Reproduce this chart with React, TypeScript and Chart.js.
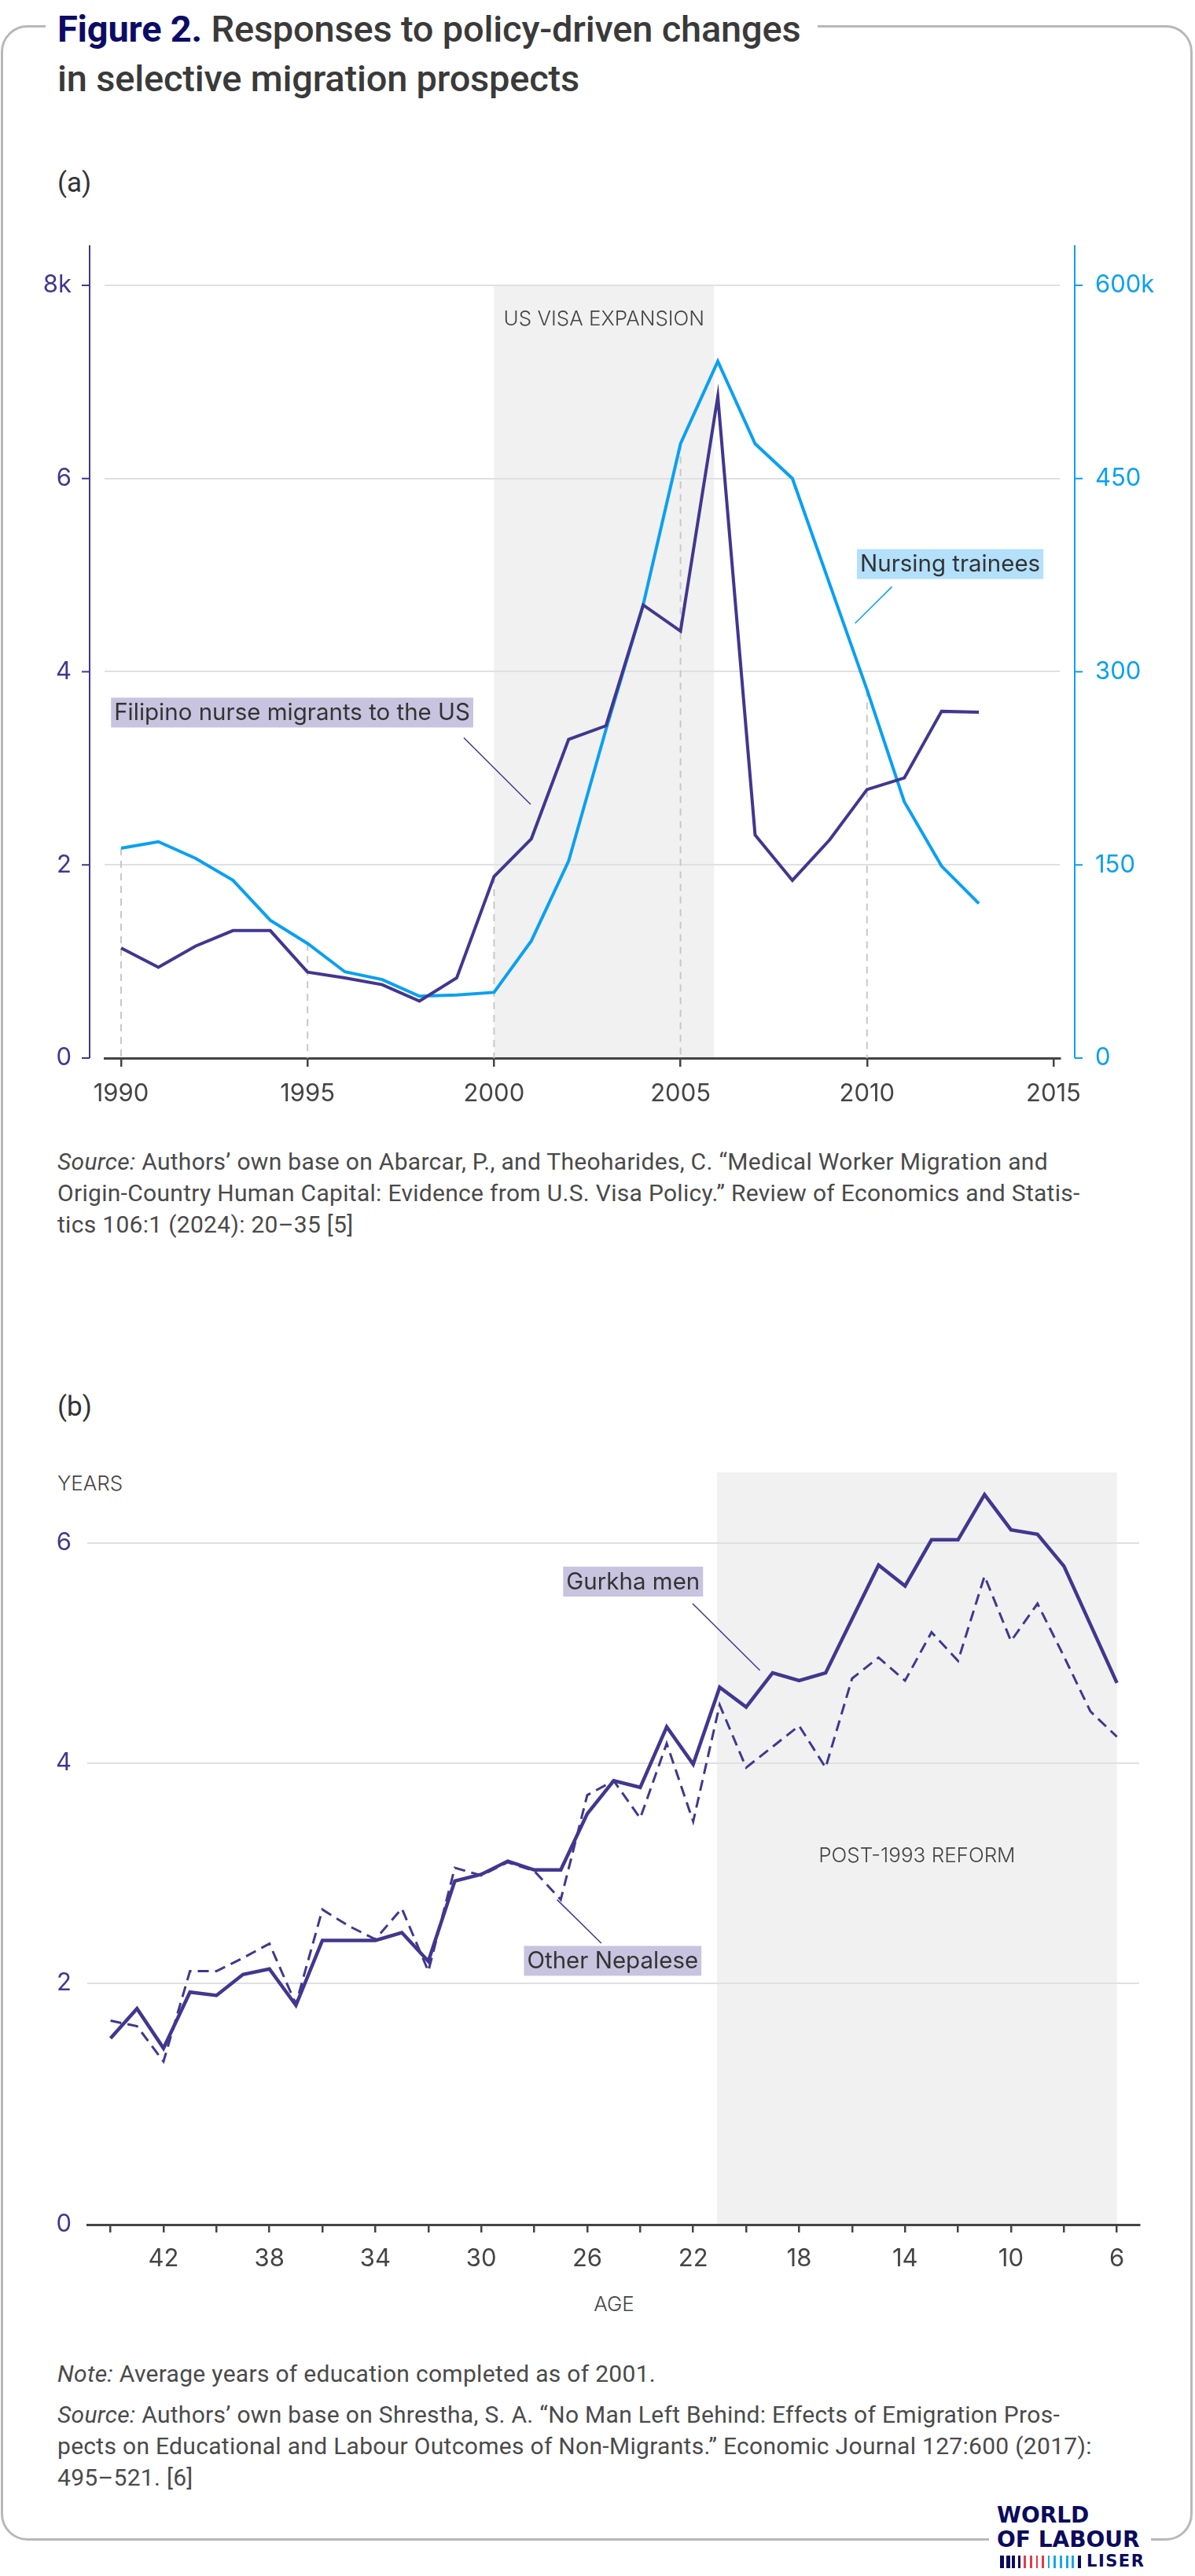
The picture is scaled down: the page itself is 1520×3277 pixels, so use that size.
import React, { useEffect, useRef } from "react";
import { Chart, registerables } from "chart.js";

Chart.register(...registerables);
Chart.defaults.font.family = "Inter, 'Noto Sans', sans-serif";

// ---------------- Data: panel (a) ----------------
const YEARS = [1990, 1991, 1992, 1993, 1994, 1995, 1996, 1997, 1998, 1999, 2000, 2001, 2002, 2003, 2004, 2005, 2006, 2007, 2008, 2009, 2010, 2011, 2012, 2013];
// Filipino nurse migrants to the US (thousands, left axis)
const FILIPINO_NURSES_K = [1.14, 0.94, 1.16, 1.32, 1.32, 0.89, 0.83, 0.76, 0.59, 0.83, 1.88, 2.27, 3.3, 3.44, 4.69, 4.42, 6.85, 2.31, 1.84, 2.26, 2.78, 2.9, 3.59, 3.58];
// Nursing trainees (thousands, right axis)
const NURSING_TRAINEES_K = [163, 168, 155, 138, 107, 89, 67, 61, 48, 49, 51, 91, 153, 255, 352, 477, 541, 477, 450, 368, 286, 199, 149, 120];
const YEAR_TICKS = [1990, 1995, 2000, 2005, 2010, 2015];
const LEFT_TICKS_K = [0, 2, 4, 6, 8];
const RIGHT_TICKS_K = [0, 150, 300, 450, 600];
const DASHED_YEARS = [1990, 1995, 2000, 2005, 2010];
const VISA_BAND = [2000, 2005.9];

// ---------------- Data: panel (b) ----------------
const AGES = [44, 43, 42, 41, 40, 39, 38, 37, 36, 35, 34, 33, 32, 31, 30, 29, 28, 27, 26, 25, 24, 23, 22, 21, 20, 19, 18, 17, 16, 15, 14, 13, 12, 11, 10, 9, 8, 7, 6];
const GURKHA_MEN = [1.5, 1.77, 1.41, 1.92, 1.89, 2.08, 2.13, 1.8, 2.39, 2.39, 2.39, 2.46, 2.2, 2.93, 2.99, 3.11, 3.03, 3.03, 3.54, 3.84, 3.78, 4.33, 3.99, 4.69, 4.51, 4.82, 4.75, 4.82, 5.31, 5.8, 5.61, 6.03, 6.03, 6.44, 6.12, 6.08, 5.79, 5.26, 4.73];
const OTHER_NEPALESE = [1.66, 1.61, 1.29, 2.11, 2.11, 2.23, 2.36, 1.81, 2.67, 2.52, 2.4, 2.68, 2.11, 3.05, 2.98, 3.1, 3.02, 2.76, 3.71, 3.84, 3.5, 4.18, 3.47, 4.53, 3.96, 4.15, 4.34, 3.96, 4.77, 4.96, 4.75, 5.19, 4.93, 5.7, 5.11, 5.45, 4.97, 4.47, 4.24];
const AGE_TICKS = [44, 42, 40, 38, 36, 34, 32, 30, 28, 26, 24, 22, 20, 18, 16, 14, 12, 10, 8, 6];
const AGE_LABELS = [42, 38, 34, 30, 26, 22, 18, 14, 10, 6];
const EDU_TICKS = [2, 4, 6];
const REFORM_BAND = [21.1, 6];

// ---------------- Styles ----------------
const PURPLE = "#41378f";
const BLUE = "#0aa0f2";
const GRID = "#e0e0e0";
const AXIS = "#444444";
const SHADE = "#f1f1f1";
const LAVENDER = "#c8c4df";
const LIGHTBLUE = "#b3e0fb";
const TEXT = "#333333";

type Label = { text: string; x: number; y: number; bg: string };
type Leader = { x1: number; y1: number; x2: number; y2: number; color: string };

function drawLabel(chart: any, xs: any, ys: any, l: Label) {
  const ctx = chart.ctx;
  ctx.save();
  ctx.font = "400 29.5px Inter";
  const w = ctx.measureText(l.text).width;
  const px = xs.getPixelForValue(l.x);
  const py = ys.getPixelForValue(l.y);
  ctx.fillStyle = l.bg;
  ctx.fillRect(px, py - 19, w + 8, 38);
  ctx.fillStyle = TEXT;
  ctx.textBaseline = "middle";
  ctx.textAlign = "left";
  ctx.fillText(l.text, px + 4, py + 1);
  ctx.restore();
}

function drawLeader(chart: any, xs: any, ys: any, l: Leader) {
  const ctx = chart.ctx;
  ctx.save();
  ctx.strokeStyle = l.color;
  ctx.lineWidth = 1.5;
  ctx.beginPath();
  ctx.moveTo(xs.getPixelForValue(l.x1), ys.getPixelForValue(l.y1));
  ctx.lineTo(xs.getPixelForValue(l.x2), ys.getPixelForValue(l.y2));
  ctx.stroke();
  ctx.restore();
}

const LABELS_A: Label[] = [
  { text: "Filipino nurse migrants to the US", x: 1989.73, y: 3.577, bg: LAVENDER },
  { text: "Nursing trainees", x: 2009.73, y: 5.114, bg: LIGHTBLUE },
];
const LEADERS_A: Leader[] = [
  { x1: 1999.19, y1: 3.317, x2: 2000.98, y2: 2.626, color: PURPLE },
  { x1: 2010.67, y1: 4.88, x2: 2009.68, y2: 4.5, color: BLUE },
];

const LABELS_B: Label[] = [
  { text: "Gurkha men", x: 26.91, y: 5.65, bg: LAVENDER },
  { text: "Other Nepalese", x: 28.39, y: 2.204, bg: LAVENDER },
];
const LEADERS_B: Leader[] = [
  { x1: 22.02, y1: 5.45, x2: 19.48, y2: 4.843, color: PURPLE },
  { x1: 27.14, y1: 2.76, x2: 25.47, y2: 2.364, color: PURPLE },
];

const noPadY = (w: number) => (s: any) => {
  s.width = w;
  s.paddingTop = 0;
  s.paddingBottom = 0;
};
const noPadX = (h: number) => (s: any) => {
  s.height = h;
  s.paddingLeft = 0;
  s.paddingRight = 0;
};

const pluginA = {
  id: "annotA",
  beforeDraw(chart: any) {
    const { ctx, chartArea: ca, scales } = chart;
    const x0 = scales.x.getPixelForValue(VISA_BAND[0]);
    const x1 = scales.x.getPixelForValue(VISA_BAND[1]);
    const top = scales.y.getPixelForValue(8);
    ctx.save();
    ctx.fillStyle = SHADE;
    ctx.fillRect(x0, top, x1 - x0, ca.bottom - top);
    ctx.restore();
  },
  beforeDatasetsDraw(chart: any) {
    const { ctx, chartArea: ca, scales } = chart;
    ctx.save();
    ctx.strokeStyle = "#c8c8c8";
    ctx.lineWidth = 2;
    ctx.setLineDash([9, 7]);
    DASHED_YEARS.forEach((yr) => {
      const i = YEARS.indexOf(yr);
      const px = scales.x.getPixelForValue(yr);
      const top = Math.min(scales.y.getPixelForValue(FILIPINO_NURSES_K[i]), scales.y2.getPixelForValue(NURSING_TRAINEES_K[i]));
      ctx.beginPath();
      ctx.moveTo(px, top);
      ctx.lineTo(px, ca.bottom);
      ctx.stroke();
    });
    ctx.setLineDash([]);
    ctx.font = "300 26px Inter";
    ctx.fillStyle = "#444";
    ctx.textAlign = "center";
    ctx.textBaseline = "middle";
    const cx = (scales.x.getPixelForValue(VISA_BAND[0]) + scales.x.getPixelForValue(VISA_BAND[1])) / 2;
    ctx.fillText("US VISA EXPANSION", cx, scales.y.getPixelForValue(7.65));
    ctx.restore();
  },
  afterDatasetsDraw(chart: any) {
    const { scales } = chart;
    LEADERS_A.forEach((l) => drawLeader(chart, scales.x, scales.y, l));
    LABELS_A.forEach((l) => drawLabel(chart, scales.x, scales.y, l));
  },
  afterDraw(chart: any) {
    const { ctx, chartArea: ca, scales } = chart;
    const gap = 19;
    ctx.save();
    ctx.lineWidth = 2;
    const lx = ca.left - gap;
    ctx.strokeStyle = PURPLE;
    ctx.beginPath();
    ctx.moveTo(lx, ca.top);
    ctx.lineTo(lx, ca.bottom);
    LEFT_TICKS_K.forEach((v) => {
      const py = scales.y.getPixelForValue(v);
      ctx.moveTo(lx - 10, py);
      ctx.lineTo(lx, py);
    });
    ctx.stroke();
    const rx = ca.right + gap;
    ctx.strokeStyle = BLUE;
    ctx.beginPath();
    ctx.moveTo(rx, ca.top);
    ctx.lineTo(rx, ca.bottom);
    RIGHT_TICKS_K.forEach((v) => {
      const py = scales.y2.getPixelForValue(v);
      ctx.moveTo(rx, py);
      ctx.lineTo(rx + 10, py);
    });
    ctx.stroke();
    ctx.restore();
  },
};

const pluginB = {
  id: "annotB",
  beforeDraw(chart: any) {
    const { ctx, chartArea: ca, scales } = chart;
    const x0 = scales.x.getPixelForValue(REFORM_BAND[0]);
    const x1 = scales.x.getPixelForValue(REFORM_BAND[1]);
    ctx.save();
    ctx.fillStyle = SHADE;
    ctx.fillRect(x0, ca.top, x1 - x0, ca.bottom - ca.top);
    ctx.restore();
  },
  beforeDatasetsDraw(chart: any) {
    const { ctx, scales } = chart;
    ctx.save();
    ctx.font = "300 26px Inter";
    ctx.fillStyle = "#444";
    ctx.textAlign = "center";
    ctx.textBaseline = "middle";
    const cx = (scales.x.getPixelForValue(REFORM_BAND[0]) + scales.x.getPixelForValue(REFORM_BAND[1])) / 2;
    ctx.fillText("POST-1993 REFORM", cx, scales.y.getPixelForValue(3.153));
    ctx.restore();
  },
  afterDatasetsDraw(chart: any) {
    const { scales } = chart;
    LEADERS_B.forEach((l) => drawLeader(chart, scales.x, scales.y, l));
    LABELS_B.forEach((l) => drawLabel(chart, scales.x, scales.y, l));
  },
};

function ChartA() {
  const ref = useRef<HTMLCanvasElement>(null);
  useEffect(() => {
    const chart = new Chart(ref.current as HTMLCanvasElement, {
      type: "line",
      data: {
        datasets: [
          {
            label: "Filipino nurse migrants to the US",
            data: YEARS.map((yr, i) => ({ x: yr, y: FILIPINO_NURSES_K[i] })),
            borderColor: PURPLE,
            borderWidth: 4,
            pointRadius: 0,
            tension: 0,
            yAxisID: "y",
          },
          {
            label: "Nursing trainees",
            data: YEARS.map((yr, i) => ({ x: yr, y: NURSING_TRAINEES_K[i] })),
            borderColor: BLUE,
            borderWidth: 4,
            pointRadius: 0,
            tension: 0,
            yAxisID: "y2",
          },
        ],
      },
      options: {
        animation: false,
        responsive: false,
        devicePixelRatio: 1,
        layout: { padding: { top: 22, left: 33, right: 52, bottom: 4 } },
        plugins: { legend: { display: false }, tooltip: { enabled: false } },
        scales: {
          x: {
            type: "linear",
            min: 1989.557,
            max: 2015.169,
            afterBuildTicks: (s: any) => {
              s.ticks = YEAR_TICKS.map((v) => ({ value: v }));
            },
            afterFit: noPadX(60),
            grid: { drawOnChartArea: false, drawTicks: true, tickLength: 11, tickColor: AXIS, lineWidth: 2.5 },
            border: { display: true, color: AXIS, width: 3 },
            ticks: { color: AXIS, font: { size: 31 }, padding: 16, maxRotation: 0, autoSkip: false, callback: (v: any) => String(v) },
          },
          y: {
            position: "left",
            min: 0,
            max: 8.415,
            afterBuildTicks: (s: any) => {
              s.ticks = LEFT_TICKS_K.map((v) => ({ value: v }));
            },
            afterFit: noPadY(100),
            grid: { color: GRID, lineWidth: 2, drawTicks: false },
            border: { display: false },
            ticks: { color: PURPLE, font: { size: 31 }, padding: 42, callback: (v: any) => (v === 8 ? "8k" : String(v)) },
          },
          y2: {
            position: "right",
            min: 0,
            max: 631.1,
            afterBuildTicks: (s: any) => {
              s.ticks = RIGHT_TICKS_K.map((v) => ({ value: v }));
            },
            afterFit: noPadY(120),
            grid: { drawOnChartArea: false, drawTicks: false },
            border: { display: false },
            ticks: { color: BLUE, font: { size: 31 }, padding: 45, callback: (v: any) => (v === 600 ? "600k" : String(v)) },
          },
        },
      },
      plugins: [pluginA],
    } as any);
    return () => chart.destroy();
  }, []);
  return <canvas ref={ref} width={1520} height={1120} style={{ position: "absolute", left: 0, top: 290, width: 1520, height: 1120 }} />;
}

const Y_B_MIN = -0.193;

function ChartB() {
  const ref = useRef<HTMLCanvasElement>(null);
  useEffect(() => {
    const chart = new Chart(ref.current as HTMLCanvasElement, {
      type: "line",
      data: {
        datasets: [
          {
            label: "Gurkha men",
            data: AGES.map((a, i) => ({ x: a, y: GURKHA_MEN[i] })),
            borderColor: PURPLE,
            borderWidth: 4.5,
            pointRadius: 0,
            tension: 0,
          },
          {
            label: "Other Nepalese",
            data: AGES.map((a, i) => ({ x: a, y: OTHER_NEPALESE[i] })),
            borderColor: PURPLE,
            borderWidth: 3,
            borderDash: [14, 8],
            pointRadius: 0,
            tension: 0,
          },
        ],
      },
      options: {
        animation: false,
        responsive: false,
        devicePixelRatio: 1,
        layout: { padding: { top: 23, left: 31, right: 71, bottom: 10 } },
        plugins: { legend: { display: false }, tooltip: { enabled: false } },
        scales: {
          x: {
            type: "linear",
            reverse: true,
            min: 5.16,
            max: 44.878,
            afterBuildTicks: (s: any) => {
              s.ticks = AGE_TICKS.map((v) => ({ value: v }));
            },
            afterFit: noPadX(70),
            grid: { drawOnChartArea: false, drawTicks: true, tickLength: 10, tickColor: AXIS, lineWidth: 2.5 },
            border: { display: true, color: AXIS, width: 3 },
            ticks: {
              color: AXIS,
              font: { size: 31 },
              padding: 15,
              maxRotation: 0,
              autoSkip: false,
              callback: (v: any) => (AGE_LABELS.includes(v) ? String(v) : ""),
            },
          },
          y: {
            min: Y_B_MIN,
            max: 6.643,
            afterBuildTicks: (s: any) => {
              s.ticks = [Y_B_MIN, ...EDU_TICKS].map((v) => ({ value: v }));
            },
            afterFit: noPadY(80),
            grid: { color: GRID, lineWidth: 2, drawTicks: false },
            border: { display: false },
            ticks: { color: PURPLE, font: { size: 31 }, padding: 20, callback: (v: any) => (v < 1 ? "0" : String(v)) },
          },
        },
      },
      plugins: [pluginB],
    } as any);
    return () => chart.destroy();
  }, []);
  return <canvas ref={ref} width={1520} height={1060} style={{ position: "absolute", left: 0, top: 1850, width: 1520, height: 1060 }} />;
}

const bodyText: React.CSSProperties = {
  position: "absolute",
  left: 73,
  width: 1420,
  fontFamily: "Roboto, sans-serif",
  fontSize: 30,
  letterSpacing: 0.3,
  lineHeight: "40px",
  color: "#4a4a4a",
  whiteSpace: "nowrap",
};

export default function App() {
  useEffect(() => {
    document.body.style.margin = "0";
  }, []);
  const bars = [
    { c: "#0b0b5e", w: 5 },
    { c: "#0b0b5e", w: 5 },
    { c: "#0b0b5e", w: 4 },
    { c: "#0b0b5e", w: 3 },
    { c: "#e23b4a", w: 2.5 },
    { c: "#e23b4a", w: 2.5 },
    { c: "#e23b4a", w: 2.5 },
    { c: "#e23b4a", w: 2.5 },
    { c: "#19a5f0", w: 2.5 },
    { c: "#19a5f0", w: 2.5 },
    { c: "#19a5f0", w: 2.5 },
    { c: "#19a5f0", w: 3 },
    { c: "#19a5f0", w: 3 },
    { c: "#0b0b5e", w: 4 },
  ];
  return (
    <div style={{ position: "absolute", left: 0, top: 0, width: 1520, height: 3277, background: "#fff", overflow: "hidden" }}>
      <div
        style={{
          position: "absolute",
          left: 1,
          top: 32,
          width: 1516,
          height: 3200,
          border: "3px solid #b8b8b8",
          borderRadius: 34,
          boxSizing: "border-box",
        }}
      />
      <div
        style={{
          position: "absolute",
          left: 58,
          top: 5,
          padding: "0 22px 0 15px",
          background: "#fff",
          fontFamily: "Roboto, sans-serif",
          fontWeight: 500,
          fontSize: 47,
          lineHeight: "63px",
          color: "#3a3a3a",
          letterSpacing: -0.2,
          whiteSpace: "nowrap",
        }}
      >
        <span style={{ color: "#0c0b66", fontWeight: 700 }}>Figure 2.</span> Responses to policy-driven changes
        <br />
        in selective migration prospects
      </div>
      <div style={{ position: "absolute", left: 73, top: 213, fontFamily: "Roboto, sans-serif", fontSize: 35, lineHeight: "40px", color: TEXT }}>(a)</div>
      <ChartA />
      <div style={{ ...bodyText, top: 1458 }}>
        <i>Source:</i> Authors’ own base on Abarcar, P., and Theoharides, C. “Medical Worker Migration and
        <br />
        Origin-Country Human Capital: Evidence from U.S. Visa Policy.” Review of Economics and Statis-
        <br />
        tics 106:1 (2024): 20–35 [5]
      </div>
      <div style={{ position: "absolute", left: 73, top: 1770, fontFamily: "Roboto, sans-serif", fontSize: 35, lineHeight: "40px", color: TEXT }}>(b)</div>
      <div style={{ position: "absolute", left: 73, top: 1872, fontFamily: "Inter, sans-serif", fontWeight: 300, fontSize: 26, lineHeight: "30px", color: "#444" }}>YEARS</div>
      <ChartB />
      <div style={{ position: "absolute", left: 681, width: 200, textAlign: "center", top: 2916, fontFamily: "Inter, sans-serif", fontWeight: 300, fontSize: 26, lineHeight: "30px", color: "#444" }}>AGE</div>
      <div style={{ ...bodyText, top: 3000 }}>
        <i>Note:</i> Average years of education completed as of 2001.
      </div>
      <div style={{ ...bodyText, top: 3052 }}>
        <i>Source:</i> Authors’ own base on Shrestha, S. A. “No Man Left Behind: Effects of Emigration Pros-
        <br />
        pects on Educational and Labour Outcomes of Non-Migrants.” Economic Journal 127:600 (2017):
        <br />
        495–521. [6]
      </div>
      <div style={{ position: "absolute", left: 1258, top: 3182, width: 206, height: 95, background: "#fff" }}>
        <div style={{ position: "absolute", left: 10, top: 4, fontFamily: "'DejaVu Sans', sans-serif", fontWeight: 700, fontSize: 28, lineHeight: "27px", color: "#0b0b5e", whiteSpace: "nowrap" }}>WORLD</div>
        <div style={{ position: "absolute", left: 10, top: 35, fontFamily: "'DejaVu Sans', sans-serif", fontWeight: 700, fontSize: 28, lineHeight: "27px", color: "#0b0b5e", whiteSpace: "nowrap" }}>OF LABOUR</div>
        {bars.map((b, i) => (
          <div key={i} style={{ position: "absolute", left: 14 + i * 7.6, top: 69, width: b.w, height: 16, background: b.c }} />
        ))}
        <div style={{ position: "absolute", left: 124, top: 64, fontFamily: "'DejaVu Sans', sans-serif", fontWeight: 700, fontSize: 21, lineHeight: "24px", letterSpacing: 1.5, color: "#0b0b5e", whiteSpace: "nowrap" }}>LISER</div>
      </div>
    </div>
  );
}
